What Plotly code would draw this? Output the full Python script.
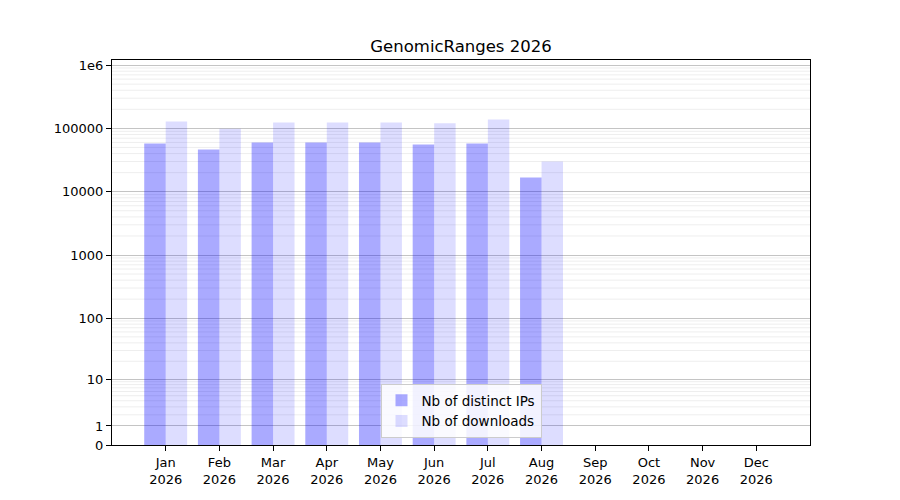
import numpy as np
import plotly.graph_objects as go

months = ["Jan", "Feb", "Mar", "Apr", "May", "Jun", "Jul", "Aug", "Sep", "Oct", "Nov", "Dec"]
year = "2026"
distinct_ips = [57900, 46600, 60100, 60100, 60000, 55900, 57900, 16800]
downloads = [129000, 99000, 124000, 124000, 124000, 120000, 138700, 30100]
y_tick_values = [0, 1, 10, 100, 1000, 10000, 100000, 1000000]
y_tick_labels = ["0", "1", "10", "100", "1000", "10000", "100000", "1e6"]

def tr(v):
    return np.log10(1 + np.asarray(v, dtype=float))

x_ips = list(range(len(distinct_ips)))
x_dl = list(range(len(downloads)))

fig = go.Figure()
fig.add_trace(go.Bar(x=x_ips, y=tr(distinct_ips), name="Nb of distinct IPs",
                     marker=dict(color="rgba(0,0,255,0.333)", line=dict(width=0))))
fig.add_trace(go.Bar(x=x_dl, y=tr(downloads), name="Nb of downloads",
                     marker=dict(color="rgba(0,0,255,0.135)", line=dict(width=0))))

ymax = 6.08
shapes = []
for n in range(0, 7):
    for k in range(2, 10):
        yv = float(tr(k * 10 ** n))
        if yv < ymax:
            shapes.append(dict(type="line", xref="paper", x0=0, x1=1, yref="y", y0=yv, y1=yv,
                               line=dict(color="#eeeeee", width=1), layer="below"))

font = "DejaVu Sans, sans-serif"
fig.update_layout(
    width=900, height=500,
    margin=dict(l=104, r=98, t=52, b=63),
    paper_bgcolor="white", plot_bgcolor="white",
    title=dict(text="GenomicRanges 2026", x=453 / 900, xanchor="center", y=1 - 38 / 500, yanchor="middle",
               font=dict(family=font, size=16.5, color="black")),
    font=dict(family=font, size=13, color="black"),
    barmode="group", bargap=0.2, bargroupgap=0,
    shapes=shapes,
    showlegend=True,
    legend=dict(x=0.5, xanchor="center", y=0.018, yanchor="bottom",
                bgcolor="rgba(255,255,255,0.85)", bordercolor="#cccccc", borderwidth=1,
                font=dict(family=font, size=13.5), tracegroupgap=0),
    xaxis=dict(range=[-1, 12], tickvals=list(range(12)),
               ticktext=[f"{m}<br>{year}" for m in months],
               showgrid=False, zeroline=False, showline=True, linecolor="black", linewidth=1,
               mirror=True, ticks="outside", ticklen=5, tickcolor="black"),
    yaxis=dict(range=[0, ymax], tickvals=list(tr(y_tick_values)), ticktext=y_tick_labels,
               showgrid=True, gridcolor="#c4c4c4", gridwidth=1, zeroline=False,
               showline=True, linecolor="black", linewidth=1, mirror=True,
               ticks="outside", ticklen=5, tickcolor="black"),
)

fig.write_html("out.html")
